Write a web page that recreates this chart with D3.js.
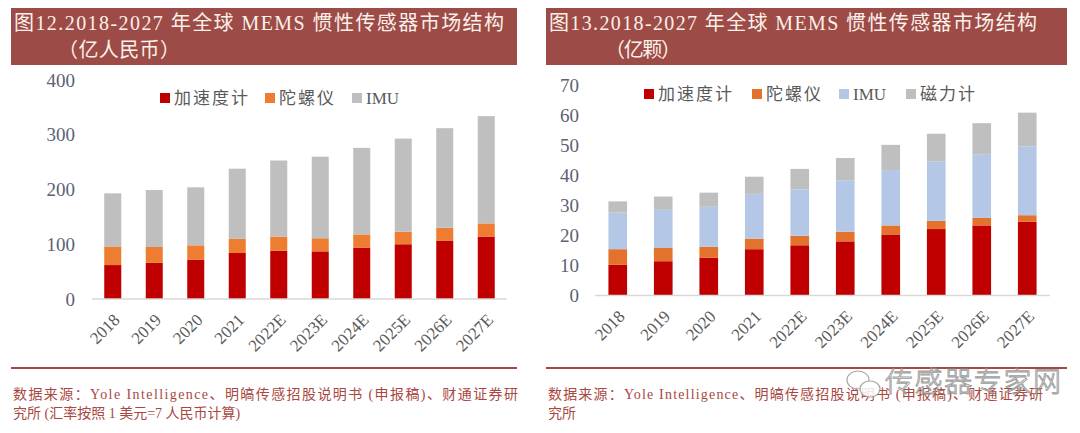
<!DOCTYPE html>
<html><head><meta charset="utf-8">
<script src="https://cdn.jsdelivr.net/npm/d3@7"></script>
<style>
html,body{margin:0;padding:0;background:#fff;}
svg{display:block;}
</style></head>
<body>
<script>
// ---------- DATA ----------
const categories = ["2018","2019","2020","2021","2022E","2023E","2024E","2025E","2026E","2027E"];
// Chart 12 (亿人民币)
const valueAccel = [62,66,72,84,88,87,94,100,106,114];
const valueGyro  = [34,29,26,26,26,24,24,23,24,24];
const valueIMU   = [97,104,106,128,139,149,158,170,182,196];
const valueTicks = [0,100,200,300,400];
// Chart 13 (亿颗)
const unitAccel = [10.2,11.4,12.6,15.4,16.7,18.0,20.3,22.1,23.3,24.5];
const unitGyro  = [5.2,4.4,3.6,3.5,3.2,3.2,3.0,2.7,2.5,2.2];
const unitIMU   = [12.2,12.7,13.3,14.9,15.4,17.1,18.4,19.8,21.2,22.9];
const unitMag   = [3.7,4.4,4.7,5.7,6.8,7.4,8.4,9.2,10.3,11.2];
const unitTicks = [0,10,20,30,40,50,60,70];

const seriesNames = ["加速度计","陀螺仪","IMU","磁力计"];
const title12 = "图12.2018-2027 年全球 MEMS 惯性传感器市场结构";
const sub12 = "（亿人民币）";
const title13 = "图13.2018-2027 年全球 MEMS 惯性传感器市场结构";
const sub13 = "（亿颗）";
const source1 = "数据来源：Yole Intelligence、明皜传感招股说明书 (申报稿)、财通证券研";
const source12b = "究所 (汇率按照 1 美元=7 人民币计算)";
const source13b = "究所";
const watermark = "传感器专家网";

// ---------- STYLE ----------
const W = 1080, H = 433;
const svg = d3.select("body").append("svg").attr("width", W).attr("height", H);
const serif = "'Liberation Serif','Times New Roman','Noto Sans CJK SC',serif";
const cjk = "'Liberation Serif','Noto Sans CJK SC',sans-serif";
const titleBg = "#9d4b46", titleFg = "#fbf0ea", srcColor = "#a9483f";
const tickColor = "#595959";

function panel(opt) {
  const g = svg.append("g");
  // title box
  g.append("rect").attr("x", opt.box[0]).attr("y", 8).attr("width", opt.box[1]-opt.box[0]).attr("height", 57).attr("fill", titleBg);
  g.append("text").attr("x", opt.box[0]+3).attr("y", 30).attr("font-family", cjk).attr("font-size", 20)
    .attr("fill", titleFg).attr("textLength", opt.titleLen).attr("lengthAdjust", "spacing").text(opt.title);
  g.append("text").attr("x", opt.subX).attr("y", 57).attr("font-family", cjk).attr("font-size", 20)
    .attr("fill", titleFg).attr("textLength", opt.subLen).attr("lengthAdjust", "spacing").text(opt.sub);

  const x = d3.scaleBand().domain(categories).range(opt.xr).paddingInner(opt.pad).paddingOuter(opt.pad/2);
  const y = d3.scaleLinear().domain(opt.ydom).range(opt.yr);

  // stacked bars
  const rows = categories.map((c,i) => { const r = {cat:c}; opt.series.forEach(s => r[s.name] = s.values[i]); return r; });
  const stack = d3.stack().keys(opt.series.map(s => s.name))(rows);
  stack.forEach((layer, li) => {
    g.append("g").attr("fill", opt.series[li].color).selectAll("rect").data(layer).join("rect")
      .attr("x", d => x(d.data.cat)).attr("width", x.bandwidth())
      .attr("y", d => y(d[1])).attr("height", d => y(d[0]) - y(d[1]));
  });

  // baseline
  g.append("line").attr("x1", opt.xr[0]).attr("x2", opt.xr[1]).attr("y1", y(0)).attr("y2", y(0))
    .attr("stroke", "#d9d9d9").attr("stroke-width", 1.5);

  // y axis labels
  const ya = g.append("g").attr("transform", `translate(${opt.yLabelX},0)`)
    .call(d3.axisLeft(y).tickValues(opt.ticks).tickSize(0).tickPadding(0));
  ya.select(".domain").remove();
  ya.selectAll("text").attr("font-family", serif).attr("font-size", 19).attr("fill", "#5a6273");

  // x axis labels
  const xa = g.append("g").attr("transform", `translate(0,${y(0)})`)
    .call(d3.axisBottom(x).tickSize(0).tickPadding(0));
  xa.select(".domain").remove();
  xa.selectAll("text").attr("font-family", serif).attr("font-size", 17).attr("fill", tickColor)
    .attr("text-anchor", "end").attr("dy", null).attr("y", null)
    .attr("transform", "translate(8,22) rotate(-45)");

  // legend
  const lg = g.append("g").attr("transform", `translate(0,${opt.legY})`);
  opt.series.forEach((s, i) => {
    const lx = opt.legX[i];
    lg.append("rect").attr("x", lx).attr("y", -5).attr("width", 10).attr("height", 10).attr("fill", s.color);
    lg.append("text").attr("x", lx+14).attr("y", 6).attr("font-family", cjk).attr("font-size", 17)
      .attr("fill", tickColor).attr("letter-spacing", s.name === "IMU" ? 0 : 2).text(s.name);
  });

  // bottom rule
  g.append("line").attr("x1", opt.box[0]).attr("x2", opt.box[1]).attr("y1", 368).attr("y2", 368)
    .attr("stroke", "#a9483f").attr("stroke-width", 2);

  // source
  g.append("text").attr("x", opt.box[0]+2).attr("y", 399).attr("font-family", cjk).attr("font-size", 14)
    .attr("fill", srcColor).attr("textLength", opt.srcLen).attr("lengthAdjust", "spacing").text(source1);
  g.append("text").attr("x", opt.box[0]+2).attr("y", 418).attr("font-family", cjk).attr("font-size", 14)
    .attr("fill", srcColor).text(opt.src2);
  return g;
}

panel({
  box: [11, 517], title: title12, titleLen: 490, sub: sub12, subX: 58, subLen: 122,
  xr: [92, 507], pad: 0.59, ydom: [0,400], yr: [299, 80], ticks: valueTicks, yLabelX: 75,
  series: [
    {name: seriesNames[0], values: valueAccel, color: "#c00000"},
    {name: seriesNames[1], values: valueGyro, color: "#ed7d31"},
    {name: seriesNames[2], values: valueIMU, color: "#bfbfbf"}
  ],
  legY: 98, legX: [160, 265, 352], srcLen: 505, src2: source12b
});

panel({
  box: [546, 1067], title: title13, titleLen: 488, sub: sub13, subX: 605, subLen: 76,
  xr: [595, 1050], pad: 0.59, ydom: [0,70], yr: [295.5, 85], ticks: unitTicks, yLabelX: 579,
  series: [
    {name: seriesNames[0], values: unitAccel, color: "#c00000"},
    {name: seriesNames[1], values: unitGyro, color: "#e2722c"},
    {name: seriesNames[2], values: unitIMU, color: "#b4c7e7"},
    {name: seriesNames[3], values: unitMag, color: "#bfbfbf"}
  ],
  legY: 94, legX: [644, 752, 839, 906], srcLen: 495, src2: source13b
});

// watermark
const wm = svg.append("g").attr("opacity", 0.85);
wm.append("ellipse").attr("cx", 858).attr("cy", 380).attr("rx", 11).attr("ry", 9).attr("fill", "#fff").attr("stroke", "#9a9a9a").attr("stroke-width", 1.2);
wm.append("ellipse").attr("cx", 870).attr("cy", 389).attr("rx", 10).attr("ry", 8).attr("fill", "#fff").attr("stroke", "#9a9a9a").attr("stroke-width", 1.2);
wm.append("text").attr("x", 885).attr("y", 392).attr("font-family", "'Noto Sans CJK SC',sans-serif").attr("font-size", 28)
  .attr("font-weight", 300).attr("fill", "rgba(255,255,255,0.6)").attr("stroke", "#8c8c8c").attr("stroke-width", 0.9)
  .attr("textLength", 176).attr("lengthAdjust", "spacing").text(watermark);
</script>
</body></html>
